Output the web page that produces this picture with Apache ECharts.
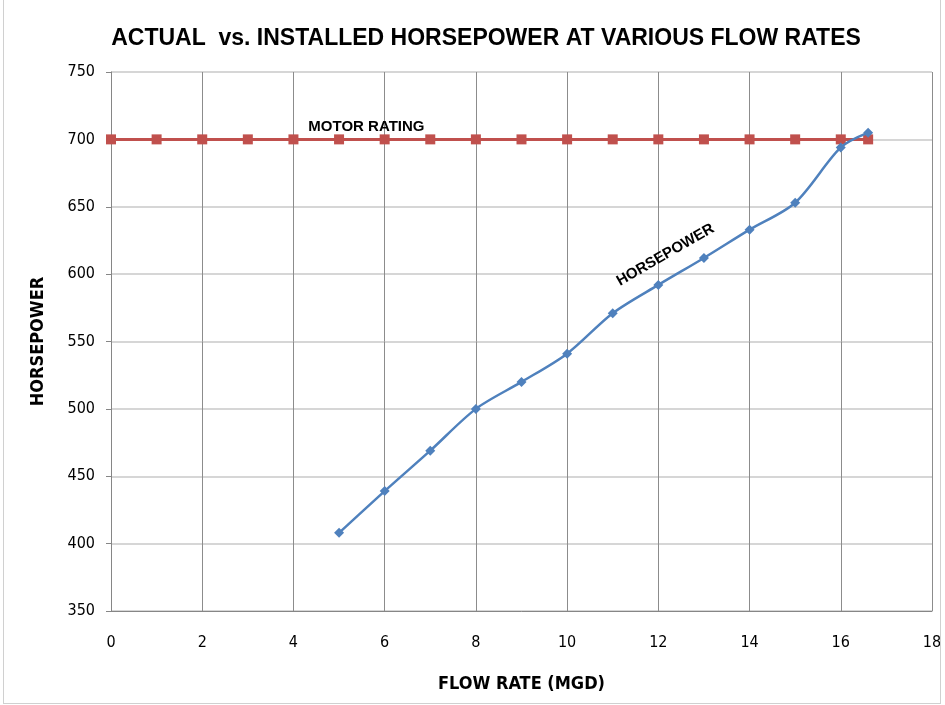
<!DOCTYPE html>
<html><head><meta charset="utf-8">
<script src="https://cdn.jsdelivr.net/npm/echarts@6/dist/echarts.min.js"></script>
<style>html,body{margin:0;padding:0;background:#fff}#c{width:945px;height:705px;position:absolute;left:0;top:0}#f{position:absolute;left:3px;top:0;width:936px;height:703px;border:1px solid #d0d0d0;border-top:none;pointer-events:none}</style>
</head><body><div id="c"></div><div id="f"></div>
<script>
const title = 'ACTUAL  vs. INSTALLED HORSEPOWER AT VARIOUS FLOW RATES';
const xTitle = 'FLOW RATE (MGD)';
const yTitle = 'HORSEPOWER';
const hpFlow = [5, 6, 7, 8, 9, 10, 11, 12, 13, 14, 15, 16, 16.6];
const hpValues = [408, 439, 469, 500, 520, 541, 571, 592, 612, 633, 653, 694, 705];
const motorFlow = [0, 1, 2, 3, 4, 5, 6, 7, 8, 9, 10, 11, 12, 13, 14, 15, 16, 16.6];
const motorValues = [700, 700, 700, 700, 700, 700, 700, 700, 700, 700, 700, 700, 700, 700, 700, 700, 700, 700];
const motorLabel = 'MOTOR RATING';
const hpLabel = 'HORSEPOWER';

const font = '"DejaVu Sans Condensed", "Liberation Sans Narrow", sans-serif';
const chart = echarts.init(document.getElementById('c'));
const opt = {
  animation: false,
  title: { text: title, left: 481, top: 22, textAlign: 'center',
    textStyle: { fontFamily: '"Liberation Sans", sans-serif', fontWeight: 'bold', fontSize: 23, color: '#000' } },
  grid: { left: 111, right: 13, top: 72, bottom: 94 },
  xAxis: { type: 'value', min: 0, max: 18, interval: 2,
    name: xTitle, nameLocation: 'middle', nameGap: 64,
    nameTextStyle: { fontFamily: font, fontWeight: 'bold', fontSize: 18, color: '#000' },
    axisLine: { lineStyle: { color: '#868686' } },
    axisTick: { show: false },
    axisLabel: { fontFamily: font, fontSize: 16, color: '#000', margin: 24 },
    splitLine: { show: true, lineStyle: { color: '#8c8c8c', width: 1 } } },
  yAxis: { type: 'value', min: 350, max: 750, interval: 50,
    name: yTitle, nameLocation: 'middle', nameGap: 64,
    nameTextStyle: { fontFamily: font, fontWeight: 'bold', fontSize: 18, color: '#000' },
    axisLine: { show: true, lineStyle: { color: '#868686' } },
    axisTick: { show: true, inside: false, length: 5, lineStyle: { color: '#868686' } },
    axisLabel: { fontFamily: font, fontSize: 16, color: '#000', margin: 16 },
    splitLine: { show: true, lineStyle: { color: '#c8c8c8', width: 1.5 } } },
  series: [
    { name: 'Motor', type: 'line', data: motorFlow.map((x, i) => [x, motorValues[i]]),
      symbol: 'rect', symbolSize: 10, lineStyle: { color: '#c0504d', width: 3 },
      itemStyle: { color: '#c0504d' }, z: 2 },
    { name: 'HP', type: 'line', data: hpFlow.map((x, i) => [x, hpValues[i]]),
      smooth: 0.3, symbol: 'diamond', symbolSize: 10, lineStyle: { color: '#4f81bd', width: 2.5 },
      itemStyle: { color: '#4f81bd' }, z: 3 }
  ]
};
chart.setOption(opt);
const p1 = chart.convertToPixel({ gridIndex: 0 }, [5.6, 700]);
const p2 = chart.convertToPixel({ gridIndex: 0 }, [12.2, 592]);
chart.setOption({ graphic: [
  { type: 'text', x: p1[0], y: p1[1] - 13, style: { text: motorLabel, fill: '#000', font: 'bold 15px "Liberation Sans", sans-serif', textAlign: 'center', textVerticalAlign: 'middle' } },
  { type: 'text', x: p2[0] - 2, y: p2[1] - 30, rotation: Math.PI * 30 / 180, style: { text: hpLabel, fill: '#000', font: 'bold 15px "Liberation Sans", sans-serif', textAlign: 'center', textVerticalAlign: 'middle' } }
] });
</script></body></html>
